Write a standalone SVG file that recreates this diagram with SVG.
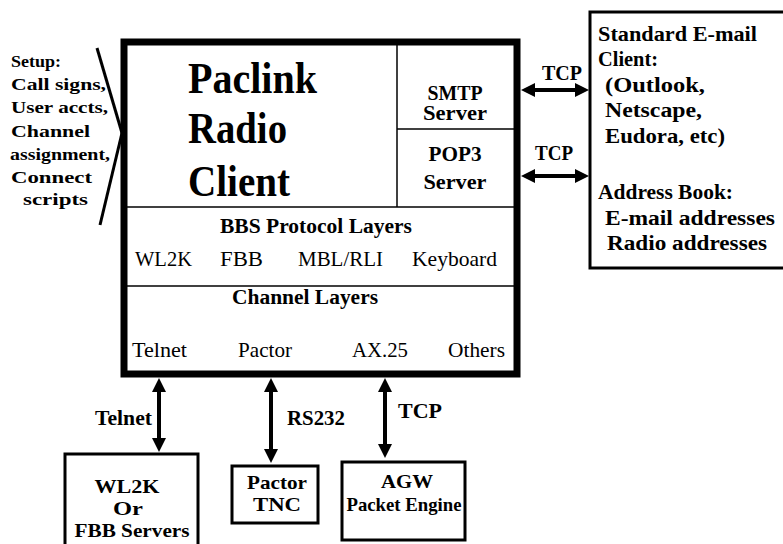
<svg xmlns="http://www.w3.org/2000/svg" width="783" height="544" viewBox="0 0 783 544">
<style>
text{font-family:"Liberation Serif","Times New Roman",serif;fill:#000}
.big{font-size:45px;font-weight:bold}
.m{font-size:20px;font-weight:bold}
.r{font-size:21px}
.s{font-size:17px;font-weight:bold}
.e{font-size:20px;font-weight:bold}
.n{font-size:19px;font-weight:bold}
.box{fill:#fff;stroke:#000;stroke-width:3}
.thin{stroke:#000;stroke-width:1.5;fill:none}
.con{stroke:#000;stroke-width:4;fill:none;marker-start:url(#ah);marker-end:url(#ah)}
</style>
<defs>
<marker id="ah" viewBox="0 0 14 14" refX="6" refY="7" markerWidth="14" markerHeight="14" markerUnits="userSpaceOnUse" orient="auto-start-reverse">
<path d="M0,0 L14,7 L0,14 z" fill="#000"/>
</marker>
</defs>
<rect width="783" height="544" fill="#fff"/>

<g id="setup">
<line x1="97" y1="48" x2="122" y2="133" stroke="#000" stroke-width="3"/>
<line x1="122" y1="133" x2="100" y2="225" stroke="#000" stroke-width="3"/>
<text class="s" x="11" y="67" textLength="50" lengthAdjust="spacingAndGlyphs">Setup:</text>
<text class="s" x="11" y="90" textLength="95" lengthAdjust="spacingAndGlyphs">Call signs,</text>
<text class="s" x="11" y="113" textLength="97" lengthAdjust="spacingAndGlyphs">User accts,</text>
<text class="s" x="11" y="137" textLength="79" lengthAdjust="spacingAndGlyphs">Channel</text>
<text class="s" x="10" y="160" textLength="100" lengthAdjust="spacingAndGlyphs">assignment,</text>
<text class="s" x="11" y="183" textLength="81" lengthAdjust="spacingAndGlyphs">Connect</text>
<text class="s" x="23" y="205" textLength="65" lengthAdjust="spacingAndGlyphs">scripts</text>
</g>

<g id="paclink">
<rect x="124" y="42" width="393" height="332" fill="#fff" stroke="#000" stroke-width="7"/>
<line class="thin" x1="397" y1="42" x2="397" y2="207"/>
<line class="thin" x1="397" y1="129" x2="517" y2="129"/>
<line class="thin" x1="124" y1="207" x2="517" y2="207"/>
<line class="thin" x1="124" y1="286" x2="517" y2="286"/>
<text class="big" x="188" y="93" textLength="129" lengthAdjust="spacingAndGlyphs">Paclink</text>
<text class="big" x="188" y="143" textLength="99" lengthAdjust="spacingAndGlyphs">Radio</text>
<text class="big" x="188" y="196" textLength="102" lengthAdjust="spacingAndGlyphs">Client</text>
</g>

<g id="smtp">
<text class="m" x="455" y="100" text-anchor="middle" textLength="55" lengthAdjust="spacingAndGlyphs">SMTP</text>
<text class="m" x="455" y="120" text-anchor="middle" textLength="64" lengthAdjust="spacingAndGlyphs">Server</text>
</g>
<g id="pop3">
<text class="m" x="455" y="161" text-anchor="middle" textLength="53" lengthAdjust="spacingAndGlyphs">POP3</text>
<text class="m" x="455" y="189" text-anchor="middle" textLength="63" lengthAdjust="spacingAndGlyphs">Server</text>
</g>

<g id="bbs">
<text class="m" x="220" y="233" textLength="192" lengthAdjust="spacingAndGlyphs">BBS Protocol Layers</text>
<text class="r" x="135" y="266" textLength="57" lengthAdjust="spacingAndGlyphs">WL2K</text>
<text class="r" x="220" y="266" textLength="43" lengthAdjust="spacingAndGlyphs">FBB</text>
<text class="r" x="298" y="266" textLength="85" lengthAdjust="spacingAndGlyphs">MBL/RLI</text>
<text class="r" x="412" y="266" textLength="85" lengthAdjust="spacingAndGlyphs">Keyboard</text>
</g>

<g id="channel">
<text class="m" x="232" y="304" textLength="146" lengthAdjust="spacingAndGlyphs">Channel Layers</text>
<text class="r" x="132" y="357" textLength="55" lengthAdjust="spacingAndGlyphs">Telnet</text>
<text class="r" x="238" y="357" textLength="54" lengthAdjust="spacingAndGlyphs">Pactor</text>
<text class="r" x="352" y="357" textLength="56" lengthAdjust="spacingAndGlyphs">AX.25</text>
<text class="r" x="448" y="357" textLength="57" lengthAdjust="spacingAndGlyphs">Others</text>
</g>

<g id="email-client">
<rect class="box" x="590" y="12" width="200" height="256"/>
<text class="e" x="598" y="41" textLength="159" lengthAdjust="spacingAndGlyphs">Standard E-mail</text>
<text class="e" x="598" y="66" textLength="60" lengthAdjust="spacingAndGlyphs">Client:</text>
<text class="e" x="605" y="92" textLength="100" lengthAdjust="spacingAndGlyphs">(Outlook,</text>
<text class="e" x="605" y="117" textLength="97" lengthAdjust="spacingAndGlyphs">Netscape,</text>
<text class="e" x="605" y="143" textLength="120" lengthAdjust="spacingAndGlyphs">Eudora, etc)</text>
<text class="e" x="598" y="199" textLength="135" lengthAdjust="spacingAndGlyphs">Address Book:</text>
<text class="e" x="605" y="225" textLength="170" lengthAdjust="spacingAndGlyphs">E-mail addresses</text>
<text class="e" x="607" y="250" textLength="160" lengthAdjust="spacingAndGlyphs">Radio addresses</text>
</g>

<g id="wl2k">
<rect class="box" x="65" y="454" width="133" height="96"/>
<text class="n" x="127" y="493" text-anchor="middle" textLength="65" lengthAdjust="spacingAndGlyphs">WL2K</text>
<text class="n" x="128" y="515" text-anchor="middle" textLength="30" lengthAdjust="spacingAndGlyphs">Or</text>
<text class="n" x="132" y="537" text-anchor="middle" textLength="115" lengthAdjust="spacingAndGlyphs">FBB Servers</text>
</g>

<g id="pactor-tnc">
<rect class="box" x="232" y="466" width="86" height="57"/>
<text class="n" x="277" y="489" text-anchor="middle" textLength="60" lengthAdjust="spacingAndGlyphs">Pactor</text>
<text class="n" x="277" y="511" text-anchor="middle" textLength="48" lengthAdjust="spacingAndGlyphs">TNC</text>
</g>

<g id="agw">
<rect class="box" x="342" y="462" width="123" height="78"/>
<text class="n" x="407" y="488" text-anchor="middle" textLength="52" lengthAdjust="spacingAndGlyphs">AGW</text>
<text class="n" x="404" y="511" text-anchor="middle" textLength="115" lengthAdjust="spacingAndGlyphs">Packet Engine</text>
</g>

<g id="connectors">
<line class="con" x1="529" y1="90" x2="581" y2="90"/>
<line class="con" x1="529" y1="176" x2="581" y2="176"/>
<line class="con" x1="159" y1="386" x2="159" y2="444"/>
<line class="con" x1="271" y1="386" x2="271" y2="455"/>
<line class="con" x1="385" y1="386" x2="385" y2="450"/>
<text class="e" x="562" y="80" text-anchor="middle" textLength="40" lengthAdjust="spacingAndGlyphs">TCP</text>
<text class="e" x="554" y="160" text-anchor="middle" textLength="38" lengthAdjust="spacingAndGlyphs">TCP</text>
<text class="e" x="95" y="425" textLength="57" lengthAdjust="spacingAndGlyphs">Telnet</text>
<text class="e" x="287" y="425" textLength="58" lengthAdjust="spacingAndGlyphs">RS232</text>
<text class="e" x="398" y="418" textLength="44" lengthAdjust="spacingAndGlyphs">TCP</text>
</g>
</svg>
